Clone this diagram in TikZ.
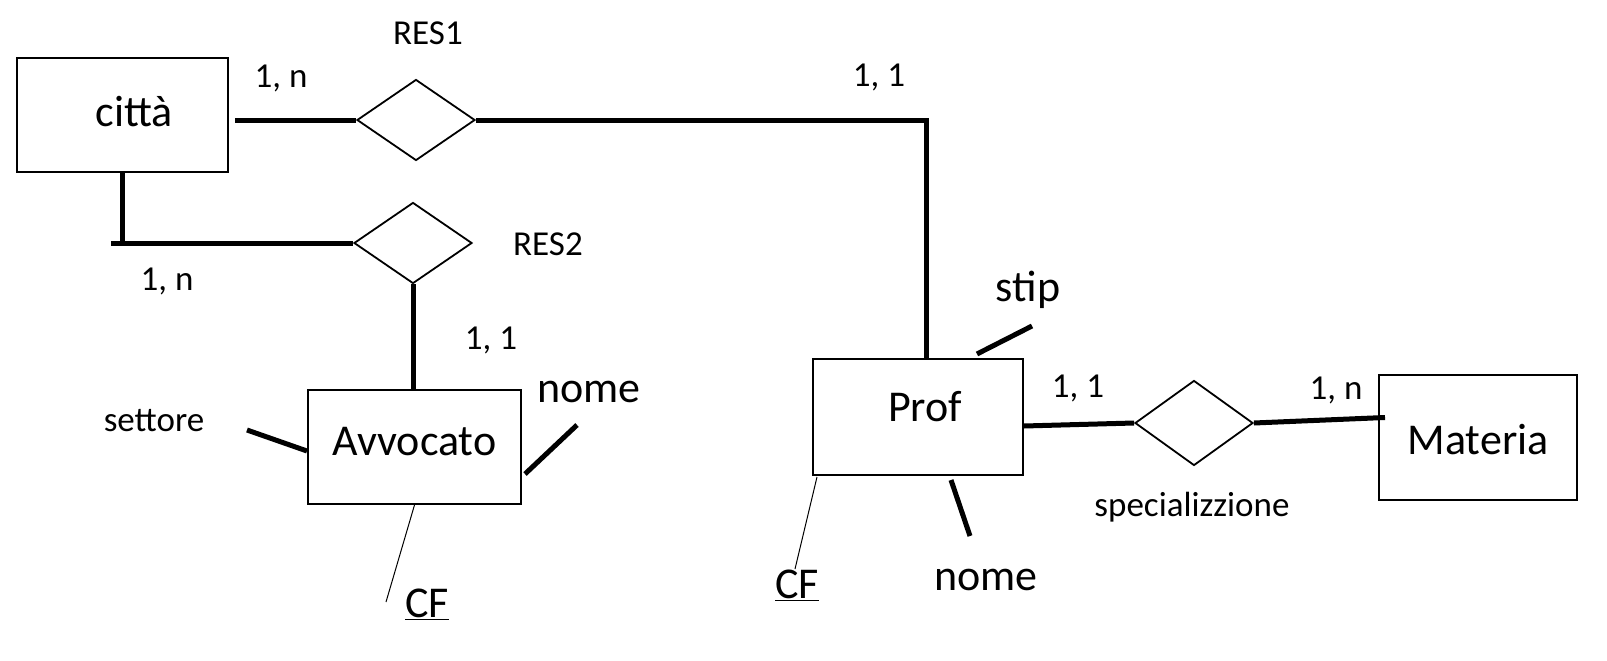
\documentclass[tikz,border=0pt]{standalone}
\usepackage{fontspec}
\setmainfont{Carlito}
\usetikzlibrary{shapes.geometric,calc}
\begin{document}
\begin{tikzpicture}[x=1pt,y=-1pt,
  entity/.style={draw,line width=2pt,inner sep=0pt},
  rel/.style={draw,diamond,line width=1.8pt,inner sep=0pt},
  big/.style={font=\fontsize{44}{50}\selectfont,inner sep=0pt},
  small/.style={font=\fontsize{35}{40}\selectfont,inner sep=0pt},
  thick line/.style={line width=5pt},
  thin line/.style={line width=1pt}]
\useasboundingbox[fill=white] (0,0) rectangle (1607,661);
% entities
\node[entity,minimum width=211pt,minimum height=114pt] (citta) at (122.5,115) {};
\node[big] (tcitta) at (134.5,112) {città};
\node[entity,minimum width=213pt,minimum height=114pt] (avv) at (414.5,447) {};
\node[big] (tavv) at (414.5,442) {Avvocato};
\node[entity,minimum width=210pt,minimum height=116pt] (prof) at (918,417) {};
\node[big] (tprof) at (925,407) {Prof};
\node[entity,minimum width=198pt,minimum height=125pt] (mat) at (1478,437.5) {};
\node[big] (tmat) at (1478,440) {Materia};
% relationships
\node[rel,minimum width=118pt,minimum height=81pt,aspect=1.46] (res1) at (416,120) {};
\node[rel,minimum width=118pt,minimum height=81pt,aspect=1.46] (res2) at (413,243) {};
\node[rel,minimum width=118pt,minimum height=85pt,aspect=1.39] (spec) at (1194,423) {};
% relationship labels
\node[small] (lres1) at (428,33) {RES1};
\node[small] (lres2) at (548,244) {RES2};
\node[small] (lspec) at (1192,507) {specializzione};
% cardinalities
\node[small] (c1) at (281,78) {1, n};
\node[small] (c2) at (879,77) {1, 1};
\node[small] (c3) at (167,281) {1, n};
\node[small] (c4) at (491,340) {1, 1};
\node[small] (c5) at (1078,388) {1, 1};
\node[small] (c6) at (1336,390) {1, n};
% connectors
\draw[thick line,shorten <=6pt] (citta.east |- res1.west) -- (res1.west);
\draw[thick line] (res1.east) -| ([xshift=8pt]prof.north);
\draw[thick line] (citta.south) -- (citta.south |- res2.west);
\coordinate (r2l) at (111,243);
\draw[thick line] (r2l) -- (res2.west);
\draw[thick line] (res2.south) -- (res2.south |- avv.north);
\draw[thick line] ([yshift=-9pt]prof.east) -- (spec.west);
\draw[thick line] (spec.east) -- ([xshift=7pt,yshift=20pt]mat.west);
% attributes of Avvocato
\node[small] (settore) at (154,421) {settore};
\coordinate (s1) at (247,430);
\draw[thick line] (s1) -- ([yshift=-4pt]avv.west);
\node[big] (anome) at (589,392) {nome};
\coordinate (n1a) at (525,474);
\coordinate (n1b) at (577,425);
\draw[thick line] (n1a) -- (n1b);
\node[big] (acf) at (427,604) {\underline{CF}};
\coordinate (cf1) at (386,602);
\draw[thin line] (avv.south) -- (cf1);
% attributes of Prof
\node[big] (stip) at (1028,290) {stip};
\coordinate (st1) at (977,354);
\coordinate (st2) at (1032,326);
\draw[thick line] (st1) -- (st2);
\node[big] (pcf) at (797,585) {\underline{CF}};
\coordinate (pcf1) at (817,477);
\coordinate (pcf2) at (795,569);
\draw[thin line] (pcf1) -- (pcf2);
\node[big] (pnome) at (986,580) {nome};
\coordinate (pn1) at (951,480);
\coordinate (pn2) at (970,536);
\draw[thick line] (pn1) -- (pn2);
\end{tikzpicture}
\end{document}
